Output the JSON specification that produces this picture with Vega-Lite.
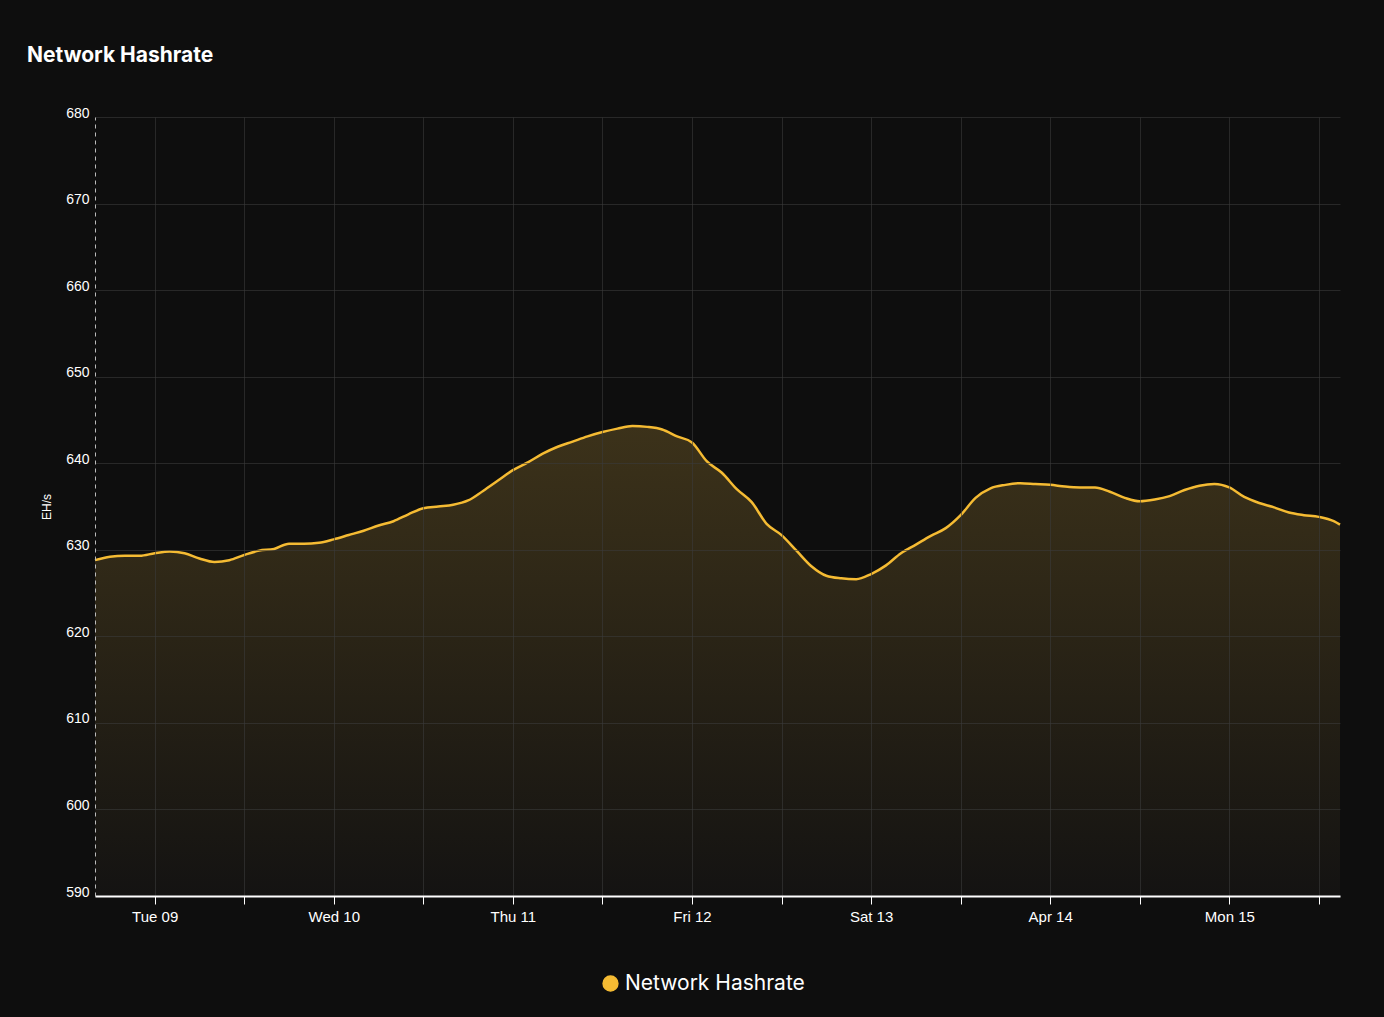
{
  "$schema": "https://vega.github.io/schema/vega-lite/v6.json",
  "autosize": {"type": "none"},
  "padding": {"left": 95, "top": 117, "right": 44, "bottom": 121},
  "width": 1245,
  "height": 779,
  "background": "#0e0e0e",
  "title": {
    "text": "Network Hashrate",
    "anchor": "start",
    "frame": "group",
    "dx": -68,
    "offset": 40,
    "font": "Inter",
    "fontSize": 21,
    "fontWeight": 700,
    "color": "#ffffff"
  },
  "config": {
    "view": {"stroke": null},
    "axis": {"labelFont": "Liberation Sans", "titleFont": "Liberation Sans"}
  },
  "data": {
    "values": [
      {"time": "2024-04-08T16:00", "hashrate": 628.8},
      {"time": "2024-04-08T18:00", "hashrate": 629.2},
      {"time": "2024-04-08T20:00", "hashrate": 629.3},
      {"time": "2024-04-08T22:00", "hashrate": 629.3},
      {"time": "2024-04-09T00:00", "hashrate": 629.6},
      {"time": "2024-04-09T02:00", "hashrate": 629.8},
      {"time": "2024-04-09T04:00", "hashrate": 629.6},
      {"time": "2024-04-09T06:00", "hashrate": 629.0},
      {"time": "2024-04-09T08:00", "hashrate": 628.6},
      {"time": "2024-04-09T10:00", "hashrate": 628.8},
      {"time": "2024-04-09T12:00", "hashrate": 629.4},
      {"time": "2024-04-09T14:00", "hashrate": 629.9},
      {"time": "2024-04-09T16:00", "hashrate": 630.1},
      {"time": "2024-04-09T18:00", "hashrate": 630.7},
      {"time": "2024-04-09T20:00", "hashrate": 630.7},
      {"time": "2024-04-09T22:00", "hashrate": 630.8},
      {"time": "2024-04-10T00:00", "hashrate": 631.2},
      {"time": "2024-04-10T02:00", "hashrate": 631.7},
      {"time": "2024-04-10T04:00", "hashrate": 632.2},
      {"time": "2024-04-10T06:00", "hashrate": 632.8},
      {"time": "2024-04-10T08:00", "hashrate": 633.3},
      {"time": "2024-04-10T10:00", "hashrate": 634.1},
      {"time": "2024-04-10T12:00", "hashrate": 634.8},
      {"time": "2024-04-10T14:00", "hashrate": 635.0},
      {"time": "2024-04-10T16:00", "hashrate": 635.2},
      {"time": "2024-04-10T18:00", "hashrate": 635.7},
      {"time": "2024-04-10T20:00", "hashrate": 636.8},
      {"time": "2024-04-10T22:00", "hashrate": 638.0},
      {"time": "2024-04-11T00:00", "hashrate": 639.2},
      {"time": "2024-04-11T02:00", "hashrate": 640.1},
      {"time": "2024-04-11T04:00", "hashrate": 641.1},
      {"time": "2024-04-11T06:00", "hashrate": 641.9},
      {"time": "2024-04-11T08:00", "hashrate": 642.5},
      {"time": "2024-04-11T10:00", "hashrate": 643.1},
      {"time": "2024-04-11T12:00", "hashrate": 643.6},
      {"time": "2024-04-11T14:00", "hashrate": 644.0},
      {"time": "2024-04-11T16:00", "hashrate": 644.3},
      {"time": "2024-04-11T18:00", "hashrate": 644.2},
      {"time": "2024-04-11T20:00", "hashrate": 643.9},
      {"time": "2024-04-11T22:00", "hashrate": 643.1},
      {"time": "2024-04-12T00:00", "hashrate": 642.4},
      {"time": "2024-04-12T02:00", "hashrate": 640.2},
      {"time": "2024-04-12T04:00", "hashrate": 638.9},
      {"time": "2024-04-12T06:00", "hashrate": 637.0},
      {"time": "2024-04-12T08:00", "hashrate": 635.5},
      {"time": "2024-04-12T10:00", "hashrate": 633.0},
      {"time": "2024-04-12T12:00", "hashrate": 631.7},
      {"time": "2024-04-12T14:00", "hashrate": 629.9},
      {"time": "2024-04-12T16:00", "hashrate": 628.1},
      {"time": "2024-04-12T18:00", "hashrate": 627.0},
      {"time": "2024-04-12T20:00", "hashrate": 626.7},
      {"time": "2024-04-12T22:00", "hashrate": 626.6},
      {"time": "2024-04-13T00:00", "hashrate": 627.2},
      {"time": "2024-04-13T02:00", "hashrate": 628.2},
      {"time": "2024-04-13T04:00", "hashrate": 629.6},
      {"time": "2024-04-13T06:00", "hashrate": 630.6},
      {"time": "2024-04-13T08:00", "hashrate": 631.6},
      {"time": "2024-04-13T10:00", "hashrate": 632.5},
      {"time": "2024-04-13T12:00", "hashrate": 634.0},
      {"time": "2024-04-13T14:00", "hashrate": 636.0},
      {"time": "2024-04-13T16:00", "hashrate": 637.1},
      {"time": "2024-04-13T18:00", "hashrate": 637.5},
      {"time": "2024-04-13T20:00", "hashrate": 637.7},
      {"time": "2024-04-13T22:00", "hashrate": 637.6},
      {"time": "2024-04-14T00:00", "hashrate": 637.5},
      {"time": "2024-04-14T02:00", "hashrate": 637.3},
      {"time": "2024-04-14T04:00", "hashrate": 637.2},
      {"time": "2024-04-14T06:00", "hashrate": 637.2},
      {"time": "2024-04-14T08:00", "hashrate": 636.7},
      {"time": "2024-04-14T10:00", "hashrate": 636.0},
      {"time": "2024-04-14T12:00", "hashrate": 635.6},
      {"time": "2024-04-14T14:00", "hashrate": 635.8},
      {"time": "2024-04-14T16:00", "hashrate": 636.2},
      {"time": "2024-04-14T18:00", "hashrate": 636.9},
      {"time": "2024-04-14T20:00", "hashrate": 637.4},
      {"time": "2024-04-14T22:00", "hashrate": 637.6},
      {"time": "2024-04-15T00:00", "hashrate": 637.2},
      {"time": "2024-04-15T02:00", "hashrate": 636.1},
      {"time": "2024-04-15T04:00", "hashrate": 635.4},
      {"time": "2024-04-15T06:00", "hashrate": 634.9},
      {"time": "2024-04-15T08:00", "hashrate": 634.3},
      {"time": "2024-04-15T10:00", "hashrate": 634.0},
      {"time": "2024-04-15T12:00", "hashrate": 633.8},
      {"time": "2024-04-15T14:00", "hashrate": 633.3},
      {"time": "2024-04-15T14:50", "hashrate": 632.9}
    ]
  },
  "layer": [
    {
      "mark": {
        "type": "area",
        "interpolate": "monotone",
        "clip": true,
        "color": {
          "gradient": "linear",
          "x1": 0, "y1": 0, "x2": 0, "y2": 1,
          "stops": [
            {"offset": 0, "color": "#3c321a"},
            {"offset": 0.038, "color": "#2a2416"},
            {"offset": 0.0843, "color": "#141312"},
            {"offset": 1, "color": "#141312"}
          ]
        }
      },
      "encoding": {
        "x": {
          "field": "time",
          "type": "temporal",
          "title": null,
          "axis": {
            "tickCount": 14,
            "labelExpr": "hours(datum.value) == 0 ? datum.label : ''",
            "labelColor": "#ffffff",
            "labelFontSize": 15,
            "labelPadding": 5,
            "labelFlush": false,
            "domainColor": "#ffffff",
            "domainWidth": 2,
            "tickSize": 8,
            "tickColor": "#ffffff",
            "gridColor": "#3a3a3a",
            "gridOpacity": 0.6,
            "zindex": 1
          }
        },
        "y": {
          "field": "hashrate",
          "type": "quantitative",
          "title": "EH/s",
          "scale": {"domain": [590, 680], "zero": false},
          "axis": {
            "tickCount": 10,
            "labelColor": "#ffffff",
            "labelFontSize": 14,
            "labelPadding": 6,
            "labelOffset": -4,
            "tickSize": 0,
            "domainColor": "#bbbbbb",
            "domainDash": [4, 4],
            "gridColor": "#3a3a3a",
            "gridOpacity": 0.6,
            "titleColor": "#ffffff",
            "titleFontSize": 12,
            "titleFontWeight": "normal",
            "titlePadding": 12,
            "zindex": 1
          }
        }
      }
    },
    {
      "mark": {"type": "line", "interpolate": "monotone", "strokeWidth": 2.5},
      "encoding": {
        "x": {"field": "time", "type": "temporal"},
        "y": {"field": "hashrate", "type": "quantitative"},
        "color": {
          "datum": "Network Hashrate",
          "scale": {"range": ["#f5bb33"]},
          "legend": {
            "title": null,
            "orient": "none",
            "legendX": 505,
            "legendY": 856,
            "symbolType": "circle",
            "symbolSize": 220,
            "symbolFillColor": "#f5bb33",
            "labelFont": "Inter",
            "labelFontSize": 21,
            "labelLimit": 400,
            "labelColor": "#ffffff"
          }
        }
      }
    }
  ]
}
